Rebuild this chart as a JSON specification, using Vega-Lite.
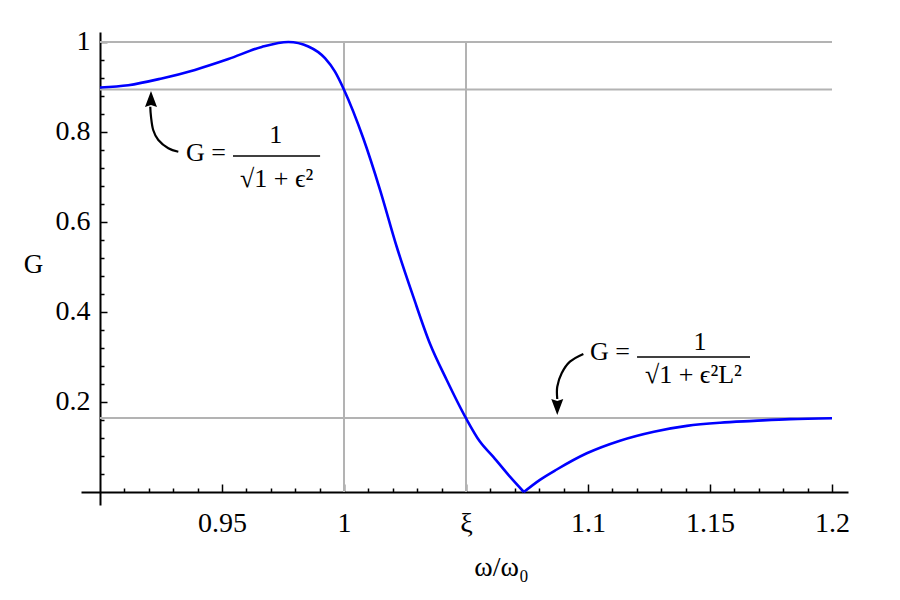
{
  "$schema": "https://vega.github.io/schema/vega-lite/v6.json",
  "description": "Elliptic filter gain G against normalised frequency",
  "width": 767,
  "height": 473,
  "autosize": "none",
  "padding": {"left": 81, "top": 32, "right": 52, "bottom": 95},
  "config": {
    "view": {"stroke": null},
    "font": "Liberation Serif",
    "text": {"font": "Liberation Serif", "color": "black"}
  },
  "datasets": {
    "curve": [
      {"part": "a", "x": 0.9, "y": 0.899},
      {"part": "a", "x": 0.9116, "y": 0.904},
      {"part": "a", "x": 0.9253, "y": 0.919},
      {"part": "a", "x": 0.9389, "y": 0.938},
      {"part": "a", "x": 0.9526, "y": 0.962},
      {"part": "a", "x": 0.9663, "y": 0.989},
      {"part": "a", "x": 0.9772, "y": 1.0},
      {"part": "a", "x": 0.9854, "y": 0.99},
      {"part": "a", "x": 0.9922, "y": 0.964},
      {"part": "a", "x": 0.9963, "y": 0.934},
      {"part": "a", "x": 1.0, "y": 0.894},
      {"part": "a", "x": 1.0079, "y": 0.786},
      {"part": "a", "x": 1.0148, "y": 0.671},
      {"part": "a", "x": 1.0216, "y": 0.545},
      {"part": "a", "x": 1.0284, "y": 0.434},
      {"part": "a", "x": 1.0352, "y": 0.33},
      {"part": "a", "x": 1.0421, "y": 0.249},
      {"part": "a", "x": 1.05, "y": 0.164},
      {"part": "a", "x": 1.0557, "y": 0.112},
      {"part": "a", "x": 1.0612, "y": 0.078},
      {"part": "a", "x": 1.068, "y": 0.034},
      {"part": "a", "x": 1.0737, "y": 0.0},
      {"part": "b", "x": 1.0737, "y": 0.0},
      {"part": "b", "x": 1.0803, "y": 0.027},
      {"part": "b", "x": 1.0872, "y": 0.05},
      {"part": "b", "x": 1.0995, "y": 0.086},
      {"part": "b", "x": 1.1131, "y": 0.114},
      {"part": "b", "x": 1.127, "y": 0.134},
      {"part": "b", "x": 1.1405, "y": 0.147},
      {"part": "b", "x": 1.1541, "y": 0.154},
      {"part": "b", "x": 1.1678, "y": 0.158},
      {"part": "b", "x": 1.1828, "y": 0.162},
      {"part": "b", "x": 1.2, "y": 0.164}
    ],
    "hgrid": [
      {"x": 0.9, "x2": 1.2, "y": 1.0},
      {"x": 0.9, "x2": 1.2, "y": 0.8944},
      {"x": 0.9, "x2": 1.2, "y": 0.1644}
    ],
    "vgrid": [
      {"x": 1.0, "y": 0, "y2": 1.0},
      {"x": 1.05, "y": 0, "y2": 1.0}
    ],
    "shafts": [
      {"arrow": "a", "seq": 1, "x": 0.9321, "y": 0.7562},
      {"arrow": "a", "seq": 2, "x": 0.928, "y": 0.7638},
      {"arrow": "a", "seq": 3, "x": 0.9239, "y": 0.7822},
      {"arrow": "a", "seq": 4, "x": 0.9218, "y": 0.8044},
      {"arrow": "a", "seq": 5, "x": 0.9209, "y": 0.834},
      {"arrow": "a", "seq": 6, "x": 0.9206, "y": 0.8562},
      {"arrow": "b", "seq": 1, "x": 1.0981, "y": 0.3067},
      {"arrow": "b", "seq": 2, "x": 1.0926, "y": 0.2896},
      {"arrow": "b", "seq": 3, "x": 1.0892, "y": 0.2638},
      {"arrow": "b", "seq": 4, "x": 1.0874, "y": 0.234},
      {"arrow": "b", "seq": 5, "x": 1.0874, "y": 0.2067}
    ],
    "heads": [
      {"dir": "up", "x": 0.9209, "y": 0.8733},
      {"dir": "down", "x": 1.0874, "y": 0.1889}
    ],
    "bars": [
      {"x": 0.9545, "x2": 0.9902, "y": 0.7467},
      {"x": 1.1201, "x2": 1.1664, "y": 0.3}
    ],
    "notes": [
      {"x": 0.9434, "y": 0.7362, "text": "G ="},
      {"x": 0.972, "y": 0.7756, "text": "1"},
      {"x": 0.9724, "y": 0.6784, "text": "√1 + ϵ²"},
      {"x": 1.109, "y": 0.2933, "text": "G ="},
      {"x": 1.1459, "y": 0.3156, "text": "1"},
      {"x": 1.1432, "y": 0.2422, "text": "√1 + ϵ²L²"}
    ]
  },
  "encoding": {
    "x": {
      "field": "x",
      "type": "quantitative",
      "scale": {"domain": [0.892213, 1.206557], "nice": false, "zero": false},
      "axis": {
        "title": "ω/ω₀",
        "titleFont": "Liberation Serif",
        "titleFontSize": 28,
        "titleFontWeight": "normal",
        "titleColor": "black",
        "titleAlign": "center",
        "titleBaseline": "alphabetic",
        "titleX": 420,
        "titleY": 83,
        "values": [0.91, 0.92, 0.93, 0.94, 0.95, 0.96, 0.97, 0.98, 0.99, 1.0, 1.01, 1.02, 1.03, 1.04, 1.05, 1.06, 1.07, 1.08, 1.09, 1.1, 1.11, 1.12, 1.13, 1.14, 1.15, 1.16, 1.17, 1.18, 1.19, 1.2],
        "labelExpr": "abs(datum.value - 1.05) < 1e-6 ? 'ξ' : (abs(datum.value * 20 - round(datum.value * 20)) < 1e-6 ? format(datum.value, '~g') : '')",
        "labelFont": "Liberation Serif",
        "labelFontSize": 28,
        "labelColor": "black",
        "labelBaseline": "top",
        "labelPadding": 25,
        "labelFlush": false,
        "labelOverlap": false,
        "tickSize": {"condition": {"test": "abs(datum.value * 20 - round(datum.value * 20)) < 1e-6", "value": -8}, "value": -4},
        "tickColor": "black",
        "tickWidth": 1.5,
        "domainColor": "black",
        "domainWidth": 2,
        "grid": false,
        "offset": -13
      }
    },
    "y": {
      "field": "y",
      "type": "quantitative",
      "scale": {"domain": [-0.028889, 1.022222], "nice": false, "zero": false},
      "axis": {
        "title": "G",
        "titleFont": "Liberation Serif",
        "titleFontSize": 27,
        "titleFontWeight": "normal",
        "titleColor": "black",
        "titleAngle": 0,
        "titleAlign": "center",
        "titleBaseline": "middle",
        "titleX": -67,
        "titleY": 232,
        "values": [0.04, 0.08, 0.12, 0.16, 0.2, 0.24, 0.28, 0.32, 0.36, 0.4, 0.44, 0.48, 0.52, 0.56, 0.6, 0.64, 0.68, 0.72, 0.76, 0.8, 0.84, 0.88, 0.92, 0.96, 1.0],
        "labelExpr": "abs(datum.value * 5 - round(datum.value * 5)) < 1e-6 ? format(datum.value, '~g') : ''",
        "labelFont": "Liberation Serif",
        "labelFontSize": 28,
        "labelColor": "black",
        "labelPadding": 17,
        "labelFlush": false,
        "labelOverlap": false,
        "tickSize": {"condition": {"test": "abs(datum.value * 5 - round(datum.value * 5)) < 1e-6", "value": -7}, "value": -4},
        "tickColor": "black",
        "tickWidth": 1.5,
        "domainColor": "black",
        "domainWidth": 2,
        "grid": false,
        "offset": -19
      }
    }
  },
  "layer": [
    {
      "data": {"name": "hgrid"},
      "mark": {"type": "rule", "color": "#b3b3b3", "strokeWidth": 2},
      "encoding": {"x2": {"field": "x2"}}
    },
    {
      "data": {"name": "vgrid"},
      "mark": {"type": "rule", "color": "#b3b3b3", "strokeWidth": 2},
      "encoding": {"y2": {"field": "y2"}}
    },
    {
      "data": {"name": "curve"},
      "mark": {"type": "line", "color": "#0000ff", "strokeWidth": 2.6, "interpolate": "monotone"},
      "encoding": {"detail": {"field": "part"}}
    },
    {
      "data": {"name": "shafts"},
      "mark": {"type": "line", "color": "black", "strokeWidth": 2.2, "interpolate": "cardinal"},
      "encoding": {
        "detail": {"field": "arrow"},
        "order": {"field": "seq", "type": "quantitative"}
      }
    },
    {
      "data": {"name": "heads"},
      "mark": {"type": "point", "filled": true, "color": "black", "opacity": 1, "size": 256},
      "encoding": {
        "shape": {
          "field": "dir",
          "type": "nominal",
          "scale": {"domain": ["up", "down"], "range": ["M0,-1L0.75,1L0,0.75L-0.75,1Z", "M0,1L0.75,-1L0,-0.75L-0.75,-1Z"]},
          "legend": null
        }
      }
    },
    {
      "data": {"name": "bars"},
      "mark": {"type": "rule", "color": "black", "strokeWidth": 1.4},
      "encoding": {"x2": {"field": "x2"}}
    },
    {
      "data": {"name": "notes"},
      "mark": {"type": "text", "fontSize": 26, "align": "center", "baseline": "alphabetic", "color": "black"},
      "encoding": {"text": {"field": "text"}}
    }
  ]
}
